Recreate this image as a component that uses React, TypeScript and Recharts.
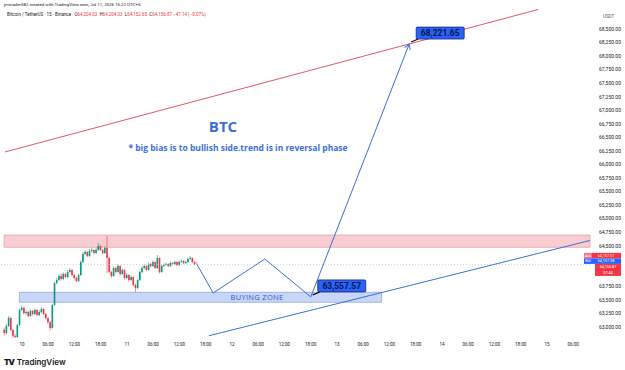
import React from 'react';
import { ComposedChart, XAxis, YAxis, Bar, Line, ReferenceArea, ReferenceLine, LabelList } from 'recharts';

// time is in hours from Jul 10 00:00, 30-min candles
const START_H = -4;
const STEP_H = 0.5;
const firstOpen = 62950;

const closes = [
  62891, 63020, 63168, 62947, 62836, 62817, 63039, 63316, 63353, 63260,
  63279, 63205, 63297, 63242, 63316, 63223, 63279, 63334, 63242, 63168,
  63094, 62984, 63408, 63814, 63869, 63943, 63888, 63980, 63924, 64017,
  64054, 63961, 63906, 63851, 63961, 64201, 64349, 64386, 64312, 64404,
  64423, 64367, 64423, 64496, 64423, 64367, 64460, 64275, 64017, 63943,
  64090, 64017, 64128, 63980, 64054, 63906, 63961, 63869, 63924, 63777,
  63722, 63869, 64017, 64090, 64128, 64054, 64164, 64128, 64201, 64090,
  64275, 64017, 64128, 64146, 64164, 64128, 64183, 64164, 64201, 64146,
  64201, 64220, 64183, 64201, 64257, 64275, 64201, 64164, 64157,
];
const highs = [
  62990, 63060, 63205, 63190, 62970, 62870, 63060, 63340, 63400, 63380,
  63320, 63300, 63330, 63320, 63345, 63335, 63310, 63370, 63350, 63260,
  63190, 63110, 63430, 63840, 63910, 63975, 63990, 64010, 64000, 64050,
  64090, 64070, 63985, 63930, 63990, 64230, 64380, 64420, 64400, 64440,
  64460, 64440, 64470, 64552, 64515, 64440, 64490, 64681, 64290, 64040,
  64120, 64110, 64160, 64145, 64085, 64070, 63995, 63980, 63950, 63945,
  63800, 63895, 64040, 64120, 64160, 64145, 64190, 64185, 64230, 64215,
  64330, 64290, 64150, 64175, 64190, 64180, 64210, 64200, 64225, 64215,
  64230, 64250, 64235, 64230, 64285, 64310, 64290, 64215, 64204,
];
const lows = [
  62850, 62870, 63000, 62920, 62800, 62790, 62800, 63020, 63290, 63230,
  63225, 63180, 63190, 63215, 63225, 63200, 63200, 63260, 63220, 63140,
  63060, 62940, 62970, 63390, 63790, 63850, 63860, 63870, 63900, 63905,
  63995, 63940, 63880, 63825, 63830, 63945, 64180, 64330, 64290, 64295,
  64380, 64345, 64350, 64405, 64400, 64340, 64350, 63998, 63990, 63910,
  63925, 63990, 64000, 63950, 63960, 63880, 63885, 63840, 63850, 63750,
  63648, 63700, 63850, 63995, 64070, 64030, 64040, 64100, 64110, 64070,
  64075, 63990, 64000, 64105, 64125, 64105, 64110, 64140, 64145, 64125,
  64130, 64185, 64160, 64165, 64185, 64240, 64180, 64140, 64152,
];

const dayLabels = ['10', '11', '12', '13', '14', '15'];
const xTicks = [0, 6, 12, 18, 24, 30, 36, 42, 48, 54, 60, 66, 72, 78, 84, 90, 96, 102, 108, 114, 120, 126];
// 64,000 and 64,250 sit under the price badges, so they are not shown
const priceTicks = [
  63000, 63250, 63500, 63750, 64500, 64750, 65000, 65250, 65500, 65750,
  66000, 66250, 66500, 66750, 67000, 67250, 67500, 67750, 68000, 68250, 68500,
];

// projected path drawn on the chart
const pathTimes = [40, 43.7, 55.5, 66, 88.5];
const pathPrices = [64157, 63629, 64257, 63557.57, 68221.65];

const resistanceZone = [64472, 64699];
const buyingZone = [63458, 63642];
const redTrend = [{ x: -3.9, y: 66231 }, { x: 118, y: 68860 }];
const blueTrend = [{ x: 42.7, y: 62840 }, { x: 129.8, y: 64598 }];

const askPrice = 64157.51;
const bidPrice = 64157.38;
const lastPrice = 64156.87;

const X_DOMAIN = [-5.03, 129.83];
const Y_DOMAIN = [62799, 68887];

const candles = closes.map((c, i) => {
  const open = i === 0 ? firstOpen : closes[i - 1];
  return { t: START_H + i * STEP_H, open, close: c, high: highs[i], low: lows[i], range: [lows[i], highs[i]] };
});
const pathData = pathTimes.map((t, i) => ({ t, p: pathPrices[i] }));

const fmt = (v: number) => v.toLocaleString('en-US', { minimumFractionDigits: 2, maximumFractionDigits: 2 });
const tickLabel = (h: number) => (h % 24 === 0 ? dayLabels[h / 24] : `${String(h % 24).padStart(2, '0')}:00`);

const Candle = (props: any) => {
  const { x, y, width, height, payload } = props;
  const { open, close, high, low } = payload;
  const color = close >= open ? '#089981' : '#f23645';
  const top = Math.min(y, y + height);
  const h = Math.abs(height);
  const py = (v: number) => top + ((high - v) / (high - low)) * h;
  const cx = x + width / 2;
  const bTop = py(Math.max(open, close));
  const bBot = py(Math.min(open, close));
  return (
    <g>
      <line x1={cx} x2={cx} y1={top} y2={top + h} stroke={color} strokeWidth={0.6} />
      <rect x={x} y={bTop} width={width} height={Math.max(bBot - bTop, 0.6)} fill={color} />
    </g>
  );
};

const PathLabel = (props: any) => {
  const { x, y, index, value } = props;
  if (index !== 3 && index !== 4) return null;
  const bx = x + 7;
  const by = y - 17;
  return (
    <g>
      <line x1={x + 2} y1={y - 2} x2={bx + 2} y2={by + 12} stroke="#111" strokeWidth={1.2} />
      <rect x={bx} y={by} width={48} height={12} rx={1} fill="#2962ff" stroke="#0d1b4d" strokeWidth={0.7} />
      <text x={bx + 24} y={by + 9} textAnchor="middle" fontSize={8.5} fontWeight={700} fill="#0b1640" fontFamily="Roboto">
        {fmt(value)}
      </text>
    </g>
  );
};

const PathDot = (props: any) => {
  const { cx, cy, index } = props;
  if (index !== pathTimes.length - 1) return <g key={index} />;
  return (
    <g key={index} transform={`translate(${cx},${cy}) rotate(-69)`}>
      <path d="M -5 -3 L 0 0 L -5 3" fill="none" stroke="#3d6fd0" strokeWidth={1} />
    </g>
  );
};

const PriceBadges = (props: any) => {
  const { viewBox } = props;
  const x = viewBox.x + viewBox.width;
  const y = viewBox.y;
  return (
    <g fontFamily="Roboto" fontSize={3.8}>
      <rect x={x - 6} y={y - 11.5} width={8} height={5.5} fill="#f7707c" />
      <text x={x - 2} y={y - 7.4} textAnchor="middle" fill="#fff">Ask</text>
      <rect x={x + 2} y={y - 11.5} width={29} height={5.5} fill="#f23645" />
      <text x={x + 16} y={y - 7.4} textAnchor="middle" fill="#ffe0e3">{fmt(askPrice)}</text>
      <rect x={x - 6} y={y - 6} width={8} height={5.5} fill="#2962ff" />
      <text x={x - 2} y={y - 1.9} textAnchor="middle" fill="#fff">Bid</text>
      <rect x={x + 2} y={y - 6} width={29} height={5.5} fill="#2962ff" />
      <text x={x + 16} y={y - 1.9} textAnchor="middle" fill="#fff">{fmt(bidPrice)}</text>
      <rect x={x + 5} y={y - 0.5} width={26} height={12} fill="#f23645" />
      <text x={x + 18} y={y + 4} textAnchor="middle" fill="#fff">{fmt(lastPrice)}</text>
      <text x={x + 18} y={y + 9.6} textAnchor="middle" fill="#fff">07:44</text>
    </g>
  );
};

export default function App() {
  return (
    <div style={{ position: 'absolute', left: 0, top: 0, width: 625, height: 370, background: '#fff', overflow: 'hidden', fontFamily: 'Roboto' }}>
      <div style={{ position: 'absolute', left: 4, top: 2, fontSize: 4.4, color: '#131722', whiteSpace: 'nowrap' }}>
        jminader582 created with TradingView.com, Jul 11, 2026 15:22 UTC+5
      </div>
      <div style={{ position: 'absolute', left: 7, top: 12, fontSize: 4.5, color: '#131722', whiteSpace: 'nowrap' }}>
        Bitcoin / TetherUS · 15 · Binance&nbsp;&nbsp;
        O<span style={{ color: '#f23645' }}>64,204.03</span>&nbsp;
        H<span style={{ color: '#f23645' }}>64,204.03</span>&nbsp;
        L<span style={{ color: '#f23645' }}>64,152.65</span>&nbsp;
        C<span style={{ color: '#f23645' }}>64,156.87</span>&nbsp;
        <span style={{ color: '#f23645' }}>−47.14 (−0.07%)</span>
      </div>
      <div style={{ position: 'absolute', left: 603, top: 14, fontSize: 4.5, color: '#555' }}>USDT</div>

      <ComposedChart width={625} height={350} data={candles} margin={{ top: 8, right: 0, bottom: 0, left: 0 }}>
        <XAxis
          dataKey="t"
          type="number"
          domain={X_DOMAIN}
          allowDataOverflow
          ticks={xTicks}
          tickFormatter={tickLabel}
          interval={0}
          axisLine={false}
          tickLine={false}
          tickSize={3}
          height={12}
          tick={{ fontSize: 4.6, fill: '#131722' }}
        />
        <YAxis
          orientation="right"
          type="number"
          domain={Y_DOMAIN}
          allowDataOverflow
          ticks={priceTicks}
          tickFormatter={fmt}
          interval={0}
          axisLine={false}
          tickLine={false}
          tickSize={7}
          width={35}
          tick={{ fontSize: 5, fill: '#131722', textAnchor: 'start' }}
        />
        <ReferenceArea
          x1={-4.1}
          x2={129.83}
          y1={resistanceZone[0]}
          y2={resistanceZone[1]}
          fill="#f8cdd2"
          fillOpacity={1}
          stroke="#e6a2a9"
          strokeWidth={0.8}
        />
        <ReferenceArea
          x1={-0.6}
          x2={82.2}
          y1={buyingZone[0]}
          y2={buyingZone[1]}
          fill="#c8d6f8"
          fillOpacity={1}
          stroke="#8fa8dc"
          strokeWidth={0.8}
        />
        <ReferenceLine y={lastPrice} stroke="#c4c6cc" strokeDasharray="1 2" strokeWidth={0.8} label={<PriceBadges />} />
        <ReferenceLine segment={redTrend} stroke="#e05868" strokeWidth={1} ifOverflow="visible" />
        <ReferenceLine segment={blueTrend} stroke="#3d6fd0" strokeWidth={1} ifOverflow="visible" />
        <Bar dataKey="range" barSize={1.6} shape={<Candle />} isAnimationActive={false} />
        <Line
          data={pathData}
          dataKey="p"
          type="linear"
          stroke="#3d6fd0"
          strokeWidth={1}
          dot={PathDot}
          activeDot={false}
          isAnimationActive={false}
        >
          <LabelList dataKey="p" content={<PathLabel />} />
        </Line>
      </ComposedChart>

      <div style={{ position: 'absolute', left: 223, top: 126, transform: 'translate(-50%,-50%)', fontSize: 15, fontWeight: 700, color: '#3a6fd8', fontFamily: 'Open Sans' }}>
        BTC
      </div>
      <div style={{ position: 'absolute', left: 238, top: 147, transform: 'translate(-50%,-50%)', fontSize: 8.5, fontWeight: 700, color: '#3a6fd8', fontFamily: 'Open Sans', whiteSpace: 'nowrap' }}>
        * big bias is to bullish side.trend is in reversal phase
      </div>
      <div style={{ position: 'absolute', left: 257, top: 297, transform: 'translate(-50%,-50%)', fontSize: 7.5, color: '#2b5bc8', fontFamily: 'Open Sans', whiteSpace: 'nowrap', letterSpacing: 0.3 }}>
        BUYING ZONE
      </div>
      <div style={{ position: 'absolute', left: 4, top: 357, fontSize: 8, color: '#131722', whiteSpace: 'nowrap', fontFamily: 'Inter' }}>
        <span style={{ fontWeight: 900, letterSpacing: -1 }}>TV</span>
        <span style={{ fontWeight: 600, marginLeft: 3 }}>TradingView</span>
      </div>
    </div>
  );
}
